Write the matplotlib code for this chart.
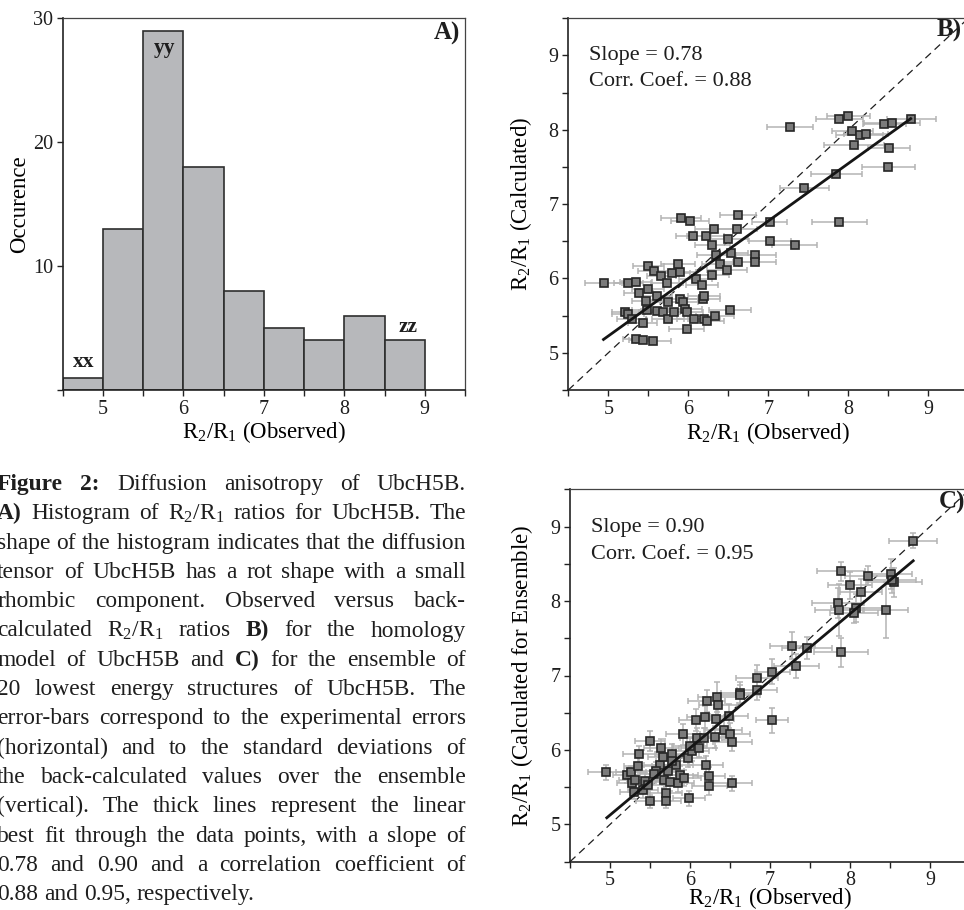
import matplotlib
matplotlib.use("Agg")
import matplotlib.pyplot as plt
import numpy as np

plt.rcParams['font.family'] = ['Liberation Serif', 'DejaVu Serif']
plt.rcParams['mathtext.fontset'] = 'custom'
plt.rcParams['mathtext.rm'] = 'Liberation Serif'
plt.rcParams['mathtext.it'] = 'Liberation Serif:italic'
plt.rcParams['mathtext.bf'] = 'Liberation Serif:bold'
plt.rcParams['text.color'] = '#1e1e1e'

# ---- data ----
# panel A: histogram of R2/R1
bin_edges = [4.5, 5.0, 5.5, 6.0, 6.5, 7.0, 7.5, 8.0, 8.5, 9.0]
counts = [1, 13, 29, 18, 8, 5, 4, 6, 4]

# panel B: observed vs calculated (homology model), horizontal errors only
obs_b = [4.94, 5.25, 5.35, 5.50, 5.57, 5.66, 5.80, 5.90, 5.87, 5.73, 5.38, 5.49, 5.47, 5.61,
         5.91, 6.02, 6.06, 6.22, 6.32, 6.30, 6.50, 6.62, 6.61, 6.35, 6.53, 6.40, 6.62, 6.83,
         6.83, 6.48, 6.29, 6.09, 6.17, 7.02, 7.02, 7.33, 7.45, 7.85, 7.89, 7.27, 7.89, 8.00,
         8.05, 8.14, 8.22, 8.07, 8.45, 8.55, 8.79, 8.51, 8.50, 5.21, 5.25, 5.29, 5.43, 5.35,
         5.43, 5.56, 5.48, 5.61, 5.68, 5.75, 5.75, 5.82, 5.90, 5.93, 5.96, 5.98, 5.98, 6.07,
         6.18, 6.19, 6.23, 6.33, 6.52, 6.19]
calc_b = [5.94, 5.94, 5.95, 6.17, 6.10, 6.03, 6.07, 6.09, 6.20, 5.94, 5.81, 5.86, 5.70, 5.76,
          6.82, 6.77, 6.57, 6.57, 6.66, 6.45, 6.53, 6.85, 6.66, 6.31, 6.34, 6.20, 6.22, 6.31,
          6.22, 6.11, 6.05, 5.99, 5.91, 6.76, 6.51, 6.45, 7.22, 7.41, 6.76, 8.04, 8.14, 8.18,
          7.99, 7.93, 7.94, 7.79, 8.08, 8.09, 8.14, 7.76, 7.50, 5.55, 5.52, 5.46, 5.40, 5.19,
          5.17, 5.16, 5.58, 5.56, 5.55, 5.46, 5.69, 5.55, 5.72, 5.68, 5.59, 5.55, 5.32, 5.45,
          5.72, 5.46, 5.43, 5.49, 5.58, 5.76]
xerr_b = [0.23, 0.18, 0.20, 0.19, 0.20, 0.18, 0.22, 0.20, 0.21, 0.20, 0.18, 0.20, 0.17, 0.19,
          0.25, 0.24, 0.22, 0.23, 0.24, 0.22, 0.25, 0.22, 0.25, 0.24, 0.22, 0.23, 0.24, 0.26,
          0.27, 0.25, 0.22, 0.21, 0.20, 0.22, 0.26, 0.28, 0.31, 0.32, 0.34, 0.29, 0.30, 0.27,
          0.26, 0.29, 0.28, 0.38, 0.27, 0.35, 0.30, 0.26, 0.33, 0.17, 0.20, 0.18, 0.18, 0.16,
          0.17, 0.22, 0.19, 0.20, 0.22, 0.20, 0.21, 0.20, 0.22, 0.19, 0.21, 0.20, 0.22, 0.21,
          0.22, 0.20, 0.21, 0.24, 0.26, 0.20]
fit_x_b = [4.94, 8.78]
fit_y_b = [5.18, 8.15]

# panel C: observed vs calculated for the ensemble
obs_c = [4.95, 5.21, 5.26, 5.27, 5.31, 5.30, 5.35, 5.36, 5.44, 5.41, 5.47, 5.50, 5.50, 5.63,
         5.64, 5.66, 5.67, 5.70, 5.70, 5.75, 5.77, 5.83, 5.85, 5.88, 5.91, 5.98, 5.99, 6.03,
         6.08, 6.11, 6.09, 6.19, 6.18, 6.20, 6.24, 6.24, 6.21, 6.34, 6.35, 6.33, 6.31, 6.42,
         6.49, 6.50, 6.53, 6.52, 6.63, 6.63, 6.84, 6.84, 7.03, 7.03, 7.28, 7.46, 7.33, 7.89,
         7.85, 7.86, 7.89, 8.00, 8.14, 8.08, 8.05, 8.22, 8.51, 8.55, 8.52, 8.45, 8.79, 5.58,
         5.72, 5.93, 6.00, 5.55, 5.78]
calc_c = [5.70, 5.66, 5.70, 5.56, 5.60, 5.44, 5.79, 5.94, 5.58, 5.46, 5.53, 5.31, 6.12, 5.80,
          6.03, 5.91, 5.60, 5.42, 5.31, 5.57, 5.95, 5.80, 5.55, 5.67, 6.21, 5.89, 5.35, 5.98,
          6.40, 6.02, 6.16, 6.44, 6.16, 5.80, 5.65, 5.51, 6.66, 6.71, 6.61, 6.42, 6.17, 6.27,
          6.46, 6.22, 6.11, 5.55, 6.77, 6.74, 6.96, 6.81, 7.05, 6.40, 7.40, 7.37, 7.13, 8.40,
          7.97, 7.88, 7.31, 8.21, 8.12, 7.91, 7.84, 8.34, 8.36, 8.25, 8.28, 7.88, 8.81, 5.72,
          5.72, 5.62, 6.05, 5.68, 5.85]
xerr_c = [0.22, 0.17, 0.19, 0.18, 0.20, 0.17, 0.18, 0.20, 0.18, 0.19, 0.20, 0.18, 0.19, 0.20,
          0.22, 0.19, 0.18, 0.20, 0.19, 0.21, 0.20, 0.21, 0.20, 0.22, 0.21, 0.22, 0.20, 0.21,
          0.22, 0.22, 0.21, 0.23, 0.22, 0.21, 0.20, 0.22, 0.23, 0.24, 0.24, 0.22, 0.23, 0.23,
          0.24, 0.25, 0.24, 0.26, 0.24, 0.25, 0.26, 0.25, 0.22, 0.20, 0.28, 0.31, 0.28, 0.30,
          0.32, 0.30, 0.34, 0.27, 0.26, 0.32, 0.30, 0.28, 0.27, 0.35, 0.30, 0.27, 0.30, 0.19,
          0.20, 0.21, 0.21, 0.18, 0.20]
yerr_c = [0.10, 0.10, 0.09, 0.10, 0.12, 0.10, 0.12, 0.12, 0.11, 0.10, 0.11, 0.09, 0.14, 0.13,
          0.12, 0.12, 0.11, 0.10, 0.09, 0.12, 0.13, 0.13, 0.12, 0.11, 0.14, 0.12, 0.10, 0.13,
          0.15, 0.12, 0.14, 0.15, 0.13, 0.12, 0.12, 0.11, 0.15, 0.20, 0.14, 0.14, 0.15, 0.13,
          0.16, 0.14, 0.13, 0.10, 0.14, 0.13, 0.18, 0.14, 0.17, 0.17, 0.18, 0.15, 0.16, 0.13,
          0.20, 0.35, 0.19, 0.18, 0.18, 0.19, 0.14, 0.13, 0.20, 0.20, 0.17, 0.38, 0.10, 0.12,
          0.13, 0.11, 0.13, 0.12, 0.14]
fit_x_c = [4.96, 8.79]
fit_y_c = [5.09, 8.54]

caption_lines = [
    "Figure 2: Diffusion anisotropy of UbcH5B.",
    "A) Histogram of R$_2$/R$_1$ ratios for UbcH5B. The",
    "shape of the histogram indicates that the diffusion",
    "tensor of UbcH5B has a rot shape with a small",
    "rhombic component. Observed versus back-",
    "calculated R$_2$/R$_1$ ratios B) for the homology",
    "model of UbcH5B and C) for the ensemble of",
    "20 lowest energy structures of UbcH5B. The",
    "error-bars correspond to the experimental errors",
    "(horizontal) and to the standard deviations of",
    "the back-calculated values over the ensemble",
    "(vertical). The thick lines represent the linear",
    "best fit through the data points, with a slope of",
    "0.78 and 0.90 and a correlation coefficient of",
    "0.88 and 0.95, respectively.",
]
bold_words = {(0, "Figure"), (0, "2:"), (1, "A)"), (5, "B)"), (6, "C)")}

W, H = 964, 910
fig = plt.figure(figsize=(W / 100, H / 100), dpi=100)

TICK_FS = 14.5
LABEL_FS = 16.5


def style_axes(ax):
    for s in ['left', 'bottom']:
        ax.spines[s].set_linewidth(1.2)
        ax.spines[s].set_color('#222222')
    for s in ['top', 'right']:
        ax.spines[s].set_linewidth(0.9)
        ax.spines[s].set_color('#444444')
    ax.tick_params(which='both', direction='out', length=4, width=1.0,
                   color='#222222', labelsize=TICK_FS, labelcolor='#1e1e1e',
                   pad=3)


# ---- panel A ----
axA = fig.add_axes([62.7 / W, 1 - 390 / H, 402.3 / W, 371.7 / H])
axA.bar(bin_edges[:-1], counts, width=np.diff(bin_edges), align='edge',
        color='#b7b8bb', edgecolor='#2e2e2e', linewidth=1.2)
axA.set_xlim(4.5, 9.5)
axA.set_ylim(0, 30)
axA.set_xticks([5, 6, 7, 8, 9])
axA.set_xticks(np.arange(4.5, 9.51, 0.5), minor=True)
axA.set_yticks([0, 10, 20, 30])
axA.set_yticklabels(['', '10', '20', '30'])
style_axes(axA)
axA.set_xlabel('R$_2$/R$_1$ (Observed)', fontsize=LABEL_FS)
axA.set_ylabel('Occurence', fontsize=LABEL_FS)
axA.xaxis.set_label_coords(0.5, -0.113)
axA.xaxis.label.set_va('center')
axA.yaxis.set_label_coords(-0.108, 0.5)
axA.yaxis.label.set_va('center')
axA.text(4.76, 2.3, 'xx', fontsize=15.5, fontweight='bold', ha='center', va='center')
axA.text(5.77, 27.6, 'yy', fontsize=15.5, fontweight='bold', ha='center', va='center')
axA.text(8.79, 5.1, 'zz', fontsize=15.5, fontweight='bold', ha='center', va='center')
axA.text(0.988, 0.958, 'A)', transform=axA.transAxes, fontsize=18,
         fontweight='bold', ha='right', va='center')


def scatter_panel(rect, obs, calc, xerr, yerr, fit_x, fit_y, ylabel, tag,
                  slope_txt, corr_txt, ylab_x, xlab_y, tag_y, txt_y):
    ax = fig.add_axes(rect)
    ax.plot([4.5, 9.5], [4.5, 9.5], color='#1e1e1e', lw=0.9,
            dashes=(6, 4), zorder=1)
    ax.errorbar(obs, calc, xerr=xerr, yerr=yerr, fmt='none', ecolor='#b4b4b4',
                elinewidth=1.1, capsize=2.5, capthick=1.1, zorder=2)
    ax.plot(obs, calc, 's', ms=6.2, mfc='#7b7b7b', mec='#262626', mew=1.2,
            zorder=3)
    ax.plot(fit_x, fit_y, color='#151515', lw=2.0, zorder=4)
    ax.set_xlim(4.5, 9.5)
    ax.set_ylim(4.5, 9.5)
    ax.set_xticks([5, 6, 7, 8, 9])
    ax.set_yticks([5, 6, 7, 8, 9])
    ax.set_xticks(np.arange(4.5, 9.51, 0.5), minor=True)
    ax.set_yticks(np.arange(4.5, 9.51, 0.5), minor=True)
    style_axes(ax)
    ax.set_xlabel('R$_2$/R$_1$ (Observed)', fontsize=LABEL_FS)
    ax.set_ylabel(ylabel, fontsize=LABEL_FS)
    ax.xaxis.set_label_coords(0.5, xlab_y)
    ax.xaxis.label.set_va('center')
    ax.yaxis.set_label_coords(ylab_x, 0.5)
    ax.yaxis.label.set_va('center')
    ax.text(4.76, txt_y[0], slope_txt, fontsize=16, ha='left', va='center')
    ax.text(4.76, txt_y[1], corr_txt, fontsize=16, ha='left', va='center')
    ax.text(9.11, tag_y, tag, fontsize=18, fontweight='bold', ha='left',
            va='center', clip_on=False)
    return ax


scatter_panel([568.3 / W, 1 - 390 / H, 400 / W, 371.7 / H], obs_b, calc_b,
              xerr_b, None, fit_x_b, fit_y_b, 'R$_2$/R$_1$ (Calculated)', 'B)',
              'Slope = 0.78', 'Corr. Coef. = 0.88', -0.117, -0.116, 9.34,
              (9.0, 8.65))
scatter_panel([570 / W, 1 - 861.7 / H, 400 / W, 372.4 / H], obs_c, calc_c,
              xerr_c, yerr_c, fit_x_c, fit_y_c,
              'R$_2$/R$_1$ (Calculated for Ensemble)', 'C)',
              'Slope = 0.90', 'Corr. Coef. = 0.95', -0.12, -0.097, 9.33,
              (8.99, 8.62))

# ---- caption, justified between two pixel edges ----
left_px, right_px = -3, 466
base0, step = 490, 29.3
renderer = fig.canvas.get_renderer()


def make_line(i, line, fs):
    arts = []
    for w in line.split(' '):
        fw = 'bold' if (i, w) in bold_words else 'normal'
        arts.append(fig.text(0, 1 - (base0 + i * step) / H, w, fontsize=fs,
                             fontweight=fw, ha='left', va='baseline',
                             color='#1e1e1e'))
    return arts


# pick the font size so the tightest line fits with normal word spacing
probe = fig.text(0, 0, 'a a', fontsize=10)
probe2 = fig.text(0, 0, 'aa', fontsize=10)
space10 = (probe.get_window_extent(renderer).width
           - probe2.get_window_extent(renderer).width)
probe.remove()
probe2.remove()
natural = []
for i, line in enumerate(caption_lines[:-1]):
    arts = make_line(i, line, 10)
    ws = sum(a.get_window_extent(renderer).width for a in arts)
    natural.append(ws + space10 * (len(arts) - 1))
    for a in arts:
        a.remove()
CAP_FS = 10 * (right_px - left_px) / max(natural)

for i, line in enumerate(caption_lines):
    arts = make_line(i, line, CAP_FS)
    widths = [a.get_window_extent(renderer).width for a in arts]
    if i == len(caption_lines) - 1:
        gap = space10 * CAP_FS / 10
    else:
        gap = (right_px - left_px - sum(widths)) / (len(arts) - 1)
    x = left_px
    for a, w in zip(arts, widths):
        a.set_x(x / W)
        x += w + gap

fig.savefig('out.png', dpi=100)
